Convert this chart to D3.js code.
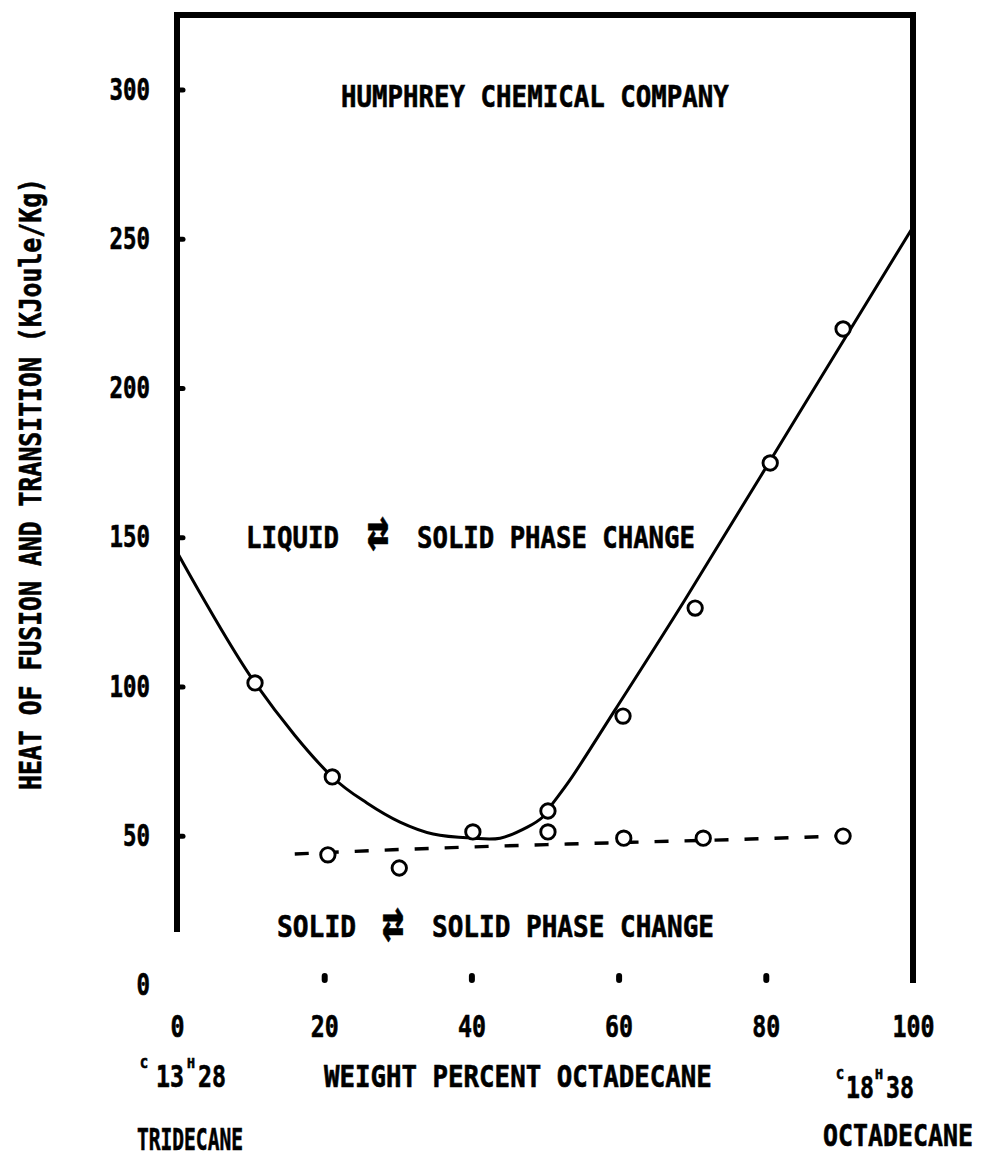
<!DOCTYPE html>
<html><head><meta charset="utf-8">
<script src="https://cdn.jsdelivr.net/npm/d3@7"></script>
<style>
html,body{margin:0;padding:0;background:#fff;}
svg{display:block;}
text{font-family:"DejaVu Sans Mono","Liberation Mono",monospace;font-weight:bold;fill:#000;stroke:#000;stroke-width:0.6px;}
</style></head><body>
<svg id="chart" width="982" height="1158"></svg>
<script>
// ---- data ----
const xTicks = [0, 20, 40, 60, 80, 100];
const yTicks = [0, 50, 100, 150, 200, 250, 300];
// measured heat of fusion (liquid <-> solid), open circles
const liquidX = [10.6, 21.1, 40.2, 50.4, 60.6, 70.4, 80.6, 90.5];
const liquidY = [101.2, 69.7, 51.3, 58.3, 90.1, 126.3, 174.9, 219.8];
// measured heat of transition (solid <-> solid), open circles
const solidX = [20.5, 30.2, 50.4, 60.7, 71.5, 90.5];
const solidY = [43.6, 39.2, 51.3, 49.2, 49.2, 49.9];
// hand-drawn fitted curve through the liquid data (solid line)
const liquidFitX = [0, 10.6, 21.1, 25.8, 30.3, 34.8, 40.1, 43.9, 47.6, 49.7, 51.1, 53.4, 59.5, 69, 84.5, 100];
const liquidFitY = [145.1, 101.2, 69.7, 61, 54.6, 50.6, 49.2, 49.2, 52.9, 56.3, 61, 68.7, 92.1, 129, 191.5, 254];
// fitted line through the solid-solid data (dashed line)
const solidFitX = [16, 29.3, 44.3, 63, 77.9, 90.5];
const solidFitY = [43.9, 45.3, 46.6, 47.9, 48.9, 50];

const title = "HUMPHREY CHEMICAL COMPANY";
const yTitle = "HEAT OF FUSION AND TRANSITION (KJoule/Kg)";
const xTitle = "WEIGHT PERCENT OCTADECANE";

// ---- drawing ----
const svg = d3.select("#chart");
svg.append("rect").attr("width", 982).attr("height", 1158).attr("fill", "#fff");

const x = d3.scaleLinear().domain([0, 100]).range([177, 913]);
const y = d3.scaleLinear().domain([0, 325]).range([985, 15]);
const ink = "#000";
const FS = 30;

// frame (left axis line, top, right edge)
svg.append("path")
  .attr("d", `M${x(0)},932 L${x(0)},${y(325)} L${x(100)},${y(325)} L${x(100)},${y(0) - 2}`)
  .attr("fill", "none").attr("stroke", ink).attr("stroke-width", 6)
  .attr("stroke-linejoin", "miter");

// y axis
const yAxis = svg.append("g").attr("transform", `translate(${x(0)},0)`)
  .call(d3.axisLeft(y).tickValues(yTicks).tickSize(-6).tickPadding(27).tickFormat(d3.format("d")));
yAxis.select(".domain").remove();
yAxis.selectAll(".tick line").attr("stroke", ink).attr("stroke-width", 5).attr("stroke-linecap", "round")
  .filter(d => d === 0).remove();
yAxis.selectAll(".tick text").attr("font-size", FS).attr("fill", ink)
  .attr("font-family", '"DejaVu Sans Mono",monospace').attr("font-weight", "bold")
  .attr("textLength", d => String(d).length * 13.5).attr("lengthAdjust", "spacingAndGlyphs");

// x axis
const xAxis = svg.append("g").attr("transform", `translate(0,980)`)
  .call(d3.axisBottom(x).tickValues(xTicks).tickSize(-4).tickPadding(36).tickFormat(d3.format("d")));
xAxis.select(".domain").remove();
xAxis.selectAll(".tick line").attr("stroke", ink).attr("stroke-width", 6).attr("stroke-linecap", "round")
  .filter(d => d === 0 || d === 100).remove();
xAxis.selectAll(".tick text").attr("font-size", FS).attr("fill", ink)
  .attr("font-family", '"DejaVu Sans Mono",monospace').attr("font-weight", "bold")
  .attr("textLength", d => String(d).length * 14).attr("lengthAdjust", "spacingAndGlyphs");

// curves
svg.append("path")
  .datum(liquidFitX.map((v, i) => [v, liquidFitY[i]]))
  .attr("d", d3.line().x(d => x(d[0])).y(d => y(d[1])).curve(d3.curveCatmullRom.alpha(0.5)))
  .attr("fill", "none").attr("stroke", ink).attr("stroke-width", 3);
svg.append("path")
  .datum(solidFitX.map((v, i) => [v, solidFitY[i]]))
  .attr("d", d3.line().x(d => x(d[0])).y(d => y(d[1])).curve(d3.curveMonotoneX))
  .attr("fill", "none").attr("stroke", ink).attr("stroke-width", 3.4)
  .attr("stroke-dasharray", "14,16");

// markers
function circles(xs, ys) {
  svg.append("g").selectAll("circle").data(xs.map((v, i) => [v, ys[i]])).join("circle")
    .attr("cx", d => x(d[0])).attr("cy", d => y(d[1])).attr("r", 7.2)
    .attr("fill", "#fff").attr("stroke", ink).attr("stroke-width", 2.9);
}
circles(liquidX, liquidY);
circles(solidX, solidY);

// texts: condensed horizontally with a transform so the box matches the ink
function label(txt, px, py, width, size, anchor) {
  const t = svg.append("text").attr("x", 0).attr("y", 0)
    .attr("font-size", size || FS).attr("text-anchor", anchor || "start").text(txt);
  let k = 1;
  if (width) k = width / t.node().getComputedTextLength();
  t.attr("transform", `translate(${px},${py}) scale(${k},1)`);
  return t;
}
label(title, 341, 107, 388);
label("LIQUID", 246, 548, 93);
label("\u21C4", 378, 550, 22, 58, "middle");
label("SOLID PHASE CHANGE", 417, 548, 278);
label("SOLID", 277, 937, 79);
label("\u21C4", 393, 941, 22, 58, "middle");
label("SOLID PHASE CHANGE", 432, 937, 282);
label(xTitle, 324, 1087, 388);
label("TRIDECANE", 137, 1150, 106);
label("OCTADECANE", 823, 1146, 150);

// chemical formulas: small raised element letters, full-size counts
function formula(parts, xs, py) {
  parts.forEach((p, i) => {
    const big = /\d/.test(p);
    label(p, xs[i], big ? py : py - 19, big ? 28 : 8, big ? FS : 14);
  });
}
formula(["C", "13", "H", "28"], [140, 156, 187, 198], 1087);
formula(["C", "18", "H", "38"], [836, 846, 875, 886], 1098);

// y axis title
svg.append("text").attr("transform", "translate(41,484) rotate(-90)")
  .attr("text-anchor", "middle").attr("font-size", FS)
  .attr("textLength", 612).attr("lengthAdjust", "spacingAndGlyphs")
  .text(yTitle);
</script>
</body></html>
